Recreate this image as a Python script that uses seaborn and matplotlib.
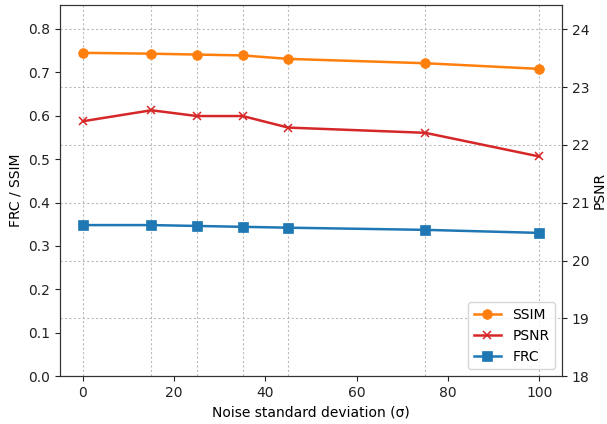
import matplotlib
matplotlib.use("Agg")
import matplotlib.pyplot as plt
import seaborn as sns
import pandas as pd

noise = [0, 15, 25, 35, 45, 75, 100]
ssim = [0.745, 0.743, 0.741, 0.739, 0.731, 0.721, 0.708]
psnr = [22.41, 22.60, 22.50, 22.50, 22.30, 22.21, 21.80]
frc = [0.348, 0.348, 0.346, 0.344, 0.342, 0.337, 0.330]

df = pd.DataFrame({"noise": noise, "SSIM": ssim, "PSNR": psnr, "FRC": frc})

fig, ax1 = plt.subplots(figsize=(6.07, 4.24), dpi=100)
fig.subplots_adjust(left=0.099, right=0.926, bottom=0.113, top=0.988)
ax2 = ax1.twinx()

sns.lineplot(data=df, x="noise", y="SSIM", ax=ax1, color="#ff7f0e", marker="o",
             markersize=7, markeredgecolor="#ff7f0e", markeredgewidth=0.5,
             linewidth=1.8, label="SSIM", legend=False)
sns.lineplot(data=df, x="noise", y="FRC", ax=ax1, color="#1f77b4", marker="s",
             markersize=7, markeredgecolor="#1f77b4", markeredgewidth=0.5,
             linewidth=1.8, label="FRC", legend=False)
sns.lineplot(data=df, x="noise", y="PSNR", ax=ax2, color="#d62728", marker="x",
             markersize=6, markeredgecolor="#d62728", markeredgewidth=1.1,
             linewidth=1.8, label="PSNR", legend=False)

ax1.set_xlim(-5, 105)
ax1.set_ylim(0, 0.855)
ax2.set_ylim(18, 24.42)
ax1.set_xticks([0, 20, 40, 60, 80, 100])
ax1.set_yticks([0.0, 0.1, 0.2, 0.3, 0.4, 0.5, 0.6, 0.7, 0.8])
ax2.set_yticks([18, 19, 20, 21, 22, 23, 24])

for xv in df["noise"]:
    ax1.axvline(xv, color="#aaaaaa", linestyle=(0, (2, 2)), linewidth=0.8, alpha=0.8, zorder=0)
ax2.grid(axis="y", color="#aaaaaa", linestyle=(0, (2, 2)), linewidth=0.8, alpha=0.8)
ax1.grid(False, axis="y")

ax1.set_xlabel("Noise standard deviation (σ)", fontsize=10)
ax1.set_ylabel("FRC / SSIM", fontsize=10)
ax2.set_ylabel("PSNR", fontsize=10, labelpad=2)

for ax in (ax1, ax2):
    ax.tick_params(labelsize=10, colors="#222222")
    for sp in ax.spines.values():
        sp.set_color("#333333")

h1, l1 = ax1.get_legend_handles_labels()
h2, l2 = ax2.get_legend_handles_labels()
handles = [h1[0], h2[0], h1[1]]
labels = [l1[0], l2[0], l1[1]]
ax2.legend(handles, labels, loc="lower right", fontsize=10)

fig.savefig("out.png", dpi=100)
